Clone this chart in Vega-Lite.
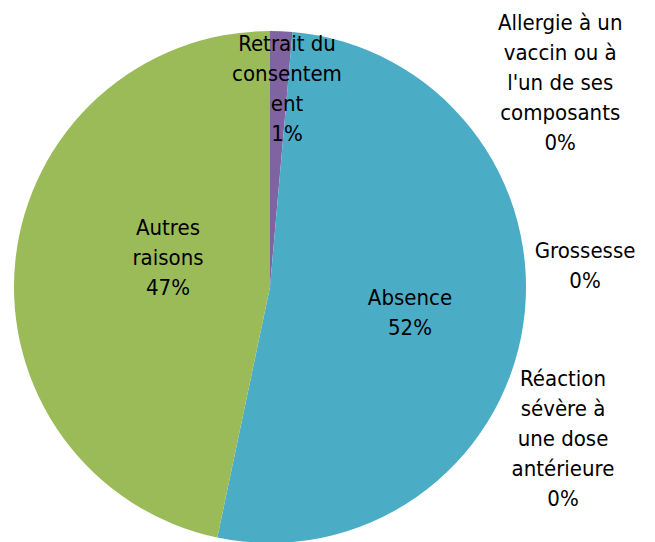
{
  "$schema": "https://vega.github.io/schema/vega-lite/v6.json",
  "autosize": {"type": "none"},
  "width": 512,
  "height": 512,
  "padding": {"left": 14, "top": 31, "right": 129, "bottom": 0},
  "background": "white",
  "config": {"view": {"stroke": null}, "text": {"font": "DejaVu Sans Condensed", "fontSize": 22, "lineHeight": 30, "lineBreak": "\n", "align": "center", "baseline": "middle", "color": "#000000"}},
  "data": {
    "values": [
      {"ordre": 1, "categorie": "Retrait du consentement", "valeur": 1.4, "etiquette": "Retrait du\nconsentem\nent\n1%"},
      {"ordre": 2, "categorie": "Absence", "valeur": 51.9, "etiquette": "Absence\n52%"},
      {"ordre": 3, "categorie": "Réaction sévère à une dose antérieure", "valeur": 0, "etiquette": "Réaction\nsévère à\nune dose\nantérieure\n0%"},
      {"ordre": 4, "categorie": "Grossesse", "valeur": 0, "etiquette": "Grossesse\n0%"},
      {"ordre": 5, "categorie": "Allergie à un vaccin ou à l'un de ses composants", "valeur": 0, "etiquette": "Allergie à un\nvaccin ou à\nl'un de ses\ncomposants\n0%"},
      {"ordre": 6, "categorie": "Autres raisons", "valeur": 46.7, "etiquette": "Autres\nraisons\n47%"}
    ]
  },
  "layer": [
    {
      "mark": {"type": "arc"},
      "encoding": {
        "theta": {"field": "valeur", "type": "quantitative", "stack": true},
        "order": {"field": "ordre", "type": "quantitative"},
        "color": {
          "field": "categorie",
          "type": "nominal",
          "legend": null,
          "scale": {
            "domain": ["Retrait du consentement", "Absence", "Réaction sévère à une dose antérieure", "Grossesse", "Allergie à un vaccin ou à l'un de ses composants", "Autres raisons"],
            "range": ["#8064A2", "#4BACC6", "#F79646", "#2C4D75", "#772C2A", "#9BBB59"]
          }
        }
      }
    },
    {
      "transform": [{"filter": "datum.ordre === 1"}],
      "mark": {"type": "text", "theta": 0.0698, "radius": 243.6},
      "encoding": {"text": {"field": "etiquette"}}
    },
    {
      "transform": [{"filter": "datum.ordre === 2"}],
      "mark": {"type": "text", "theta": 1.649, "radius": 140.4},
      "encoding": {"text": {"field": "etiquette"}}
    },
    {
      "transform": [{"filter": "datum.ordre === 3"}],
      "mark": {"type": "text", "theta": 1.875, "radius": 307.1},
      "encoding": {"text": {"field": "etiquette"}}
    },
    {
      "transform": [{"filter": "datum.ordre === 4"}],
      "mark": {"type": "text", "theta": 1.457, "radius": 317.1},
      "encoding": {"text": {"field": "etiquette"}}
    },
    {
      "transform": [{"filter": "datum.ordre === 5"}],
      "mark": {"type": "text", "theta": 0.833, "radius": 392.2},
      "encoding": {"text": {"field": "etiquette"}}
    },
    {
      "transform": [{"filter": "datum.ordre === 6"}],
      "mark": {"type": "text", "theta": 5.236, "radius": 117.8},
      "encoding": {"text": {"field": "etiquette"}}
    }
  ]
}
